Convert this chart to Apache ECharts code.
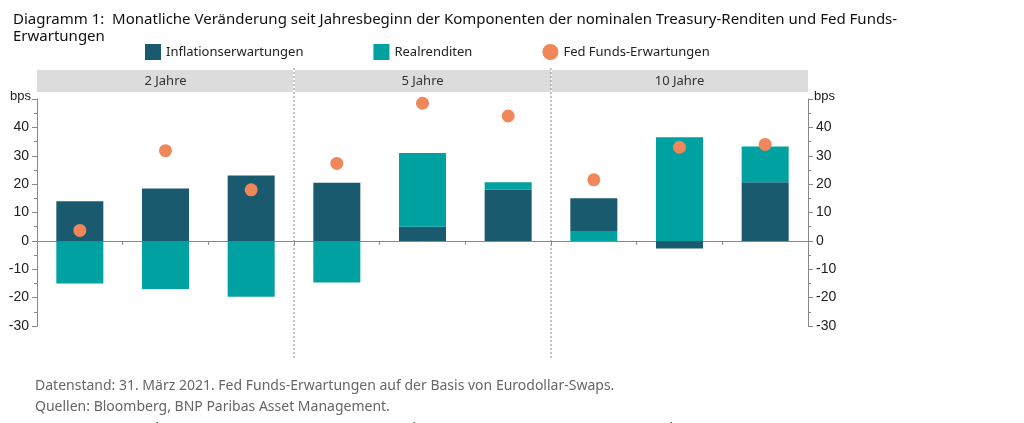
<!DOCTYPE html>
<html><head><meta charset="utf-8">
<script src="https://cdn.jsdelivr.net/npm/echarts@6/dist/echarts.min.js"></script>
<style>html,body{margin:0;padding:0;background:#fff}#c{width:1024px;height:423px}</style>
</head><body><div id="c"></div>
<script>
const categories = ['Januar','Februar','März','Januar','Februar','März','Januar','Februar','März'];
const panels = ['2 Jahre','5 Jahre','10 Jahre'];
const inflation = [14, 18.5, 23, 20.5, 5, 18, 11.5, -2.7, 20.7];
const realLow = ['-', '-', '-', '-', '-', '-', 3.5, '-', '-'];
const real = [-15, -17, -19.7, -14.7, 26, 2.7, '-', 36.5, 12.6];
const fedFunds = [3.7, 31.8, 18, 27.3, 48.5, 44, 21.5, 33, 34];
const yTicks = [-30, 50, 10];

const chart = echarts.init(document.getElementById('c'));
const L = 37, R = 808, T = 99, B = 326;
const pw = (R - L) / 3;
const graphics = [];
panels.forEach((p, i) => {
  graphics.push({type:'rect', shape:{x:L + i*pw + (i?1:0), y:70, width:pw - 1, height:22}, style:{fill:'#dcdcdc'}, silent:true});
  graphics.push({type:'text', x:L + i*pw + pw/2, y:81, style:{text:p, fill:'#333', font:'13px "Noto Sans"', align:'center', verticalAlign:'middle'}});
});
[1,2].forEach(i => graphics.push({type:'line', shape:{x1:L+i*pw, y1:68, x2:L+i*pw, y2:358}, style:{stroke:'#888', lineWidth:1, lineDash:[2,2]}}));
graphics.push({type:'text', left:35, top:376, style:{text:'Datenstand: 31. März 2021. Fed Funds-Erwartungen auf der Basis von Eurodollar-Swaps.\nQuellen: Bloomberg, BNP Paribas Asset Management.', fill:'#666', font:'14px "Noto Sans"', lineHeight:21}});

const yAxisBase = (pos) => ({
  type:'value', position:pos, min:yTicks[0], max:yTicks[1], interval:yTicks[2],
  name:'bps', nameLocation:'end', nameGap:-4,
  nameTextStyle:{color:'#222', fontSize:13, fontFamily:'Liberation Sans', align: pos==='left'?'right':'left', padding: pos==='left'?[0,6,0,0]:[0,0,0,6]},
  axisLine:{show:true, lineStyle:{color:'#888'}},
  axisTick:{show:true, length:5, lineStyle:{color:'#888'}},
  minorTick:{show:true, splitNumber:2, length:3, lineStyle:{color:'#888'}},
  splitLine:{show:false},
  axisLabel:{color:'#222', fontSize:14, fontFamily:'Liberation Sans', formatter:v => v===50?'':v}
});

chart.setOption({
  animation:false,
  title:{text:'Diagramm 1:  Monatliche Veränderung seit Jahresbeginn der Komponenten der nominalen Treasury-Renditen und Fed Funds-\nErwartungen', left:8, top:6, textStyle:{fontSize:15, fontWeight:'normal', color:'#111', fontFamily:'Noto Sans', lineHeight:17}},
  legend:{top:39, left:140, itemGap:70, itemWidth:16, itemHeight:16, textStyle:{fontSize:13, color:'#222', fontFamily:'Noto Sans'},
    data:[{name:'Inflationserwartungen', icon:'rect'},{name:'Realrenditen', icon:'rect'},{name:'Fed Funds-Erwartungen', icon:'circle'}]},
  grid:{left:L, right:1024-R, top:T, bottom:423-B, containLabel:false, outerBoundsMode:'none'},
  xAxis:{type:'category', data:categories,
    axisLine:{onZero:true, lineStyle:{color:'#888'}},
    axisTick:{show:true, length:4, lineStyle:{color:'#888'}},
    axisLabel:{color:'#222', fontSize:13, fontFamily:'Noto Sans', interval:0, margin:96}},
  yAxis:[yAxisBase('left'), yAxisBase('right')],
  series:[
    {name:'Realrenditen', type:'bar', stack:'s', data:realLow, barWidth:47, itemStyle:{color:'#00a1a1'}},
    {name:'Inflationserwartungen', type:'bar', stack:'s', data:inflation, barWidth:47, itemStyle:{color:'#195a6e'}},
    {name:'Realrenditen', type:'bar', stack:'s', data:real, barWidth:47, itemStyle:{color:'#00a1a1'}},
    {name:'Fed Funds-Erwartungen', type:'scatter', data:fedFunds, symbolSize:13, itemStyle:{color:'#f0875a', opacity:1}, z:5}
  ],
  graphic:graphics
});
</script></body></html>
